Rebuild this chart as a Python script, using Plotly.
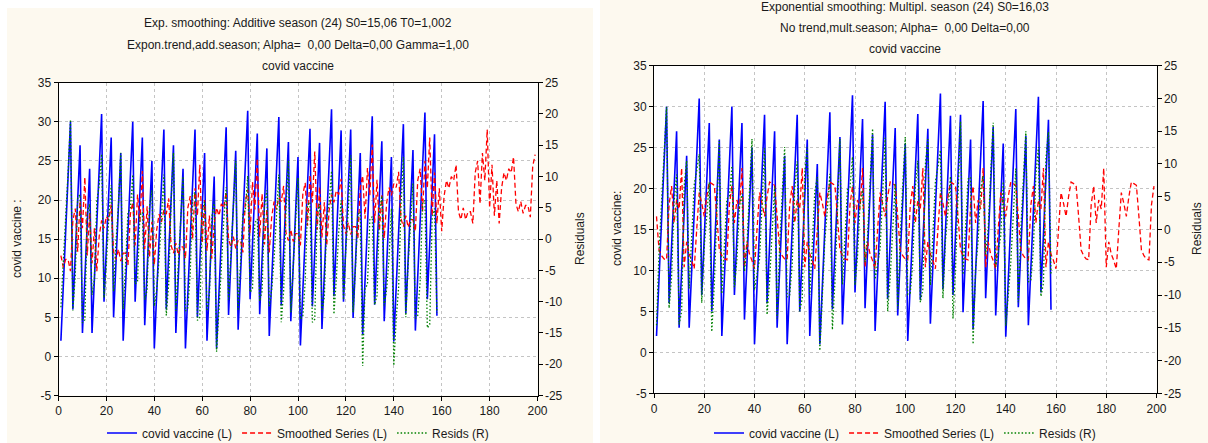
import plotly.graph_objects as go

# ---------------- data ----------------
x_observed = list(range(1, 159))     # observed cases 1..158
x_forecast = list(range(1, 200))     # smoothed series incl. forecast 1..199

covid_vaccine = [
    2, 9, 16, 23, 30, 6, 13, 20, 27, 3, 10, 17, 24, 3, 10, 17, 24, 31, 7, 14, 21, 28, 5, 12,
    19, 26, 2, 9, 16, 23, 30, 7, 14, 21, 28, 4, 11, 18, 25, 1, 8, 15, 22, 29, 6, 13, 20, 27,
    3, 10, 17, 24, 1, 8, 15, 22, 29, 5, 12, 19, 26, 2, 9, 16, 23, 1, 8, 15, 22, 29.3, 5.3, 12.3,
    19.3, 26.3, 3.4, 10.4, 17.4, 24.4, 31.4, 7.3, 14.4, 21.4, 28.5, 5.4, 12.5, 19.5, 26.6, 2.6,
    9.6, 16.6, 23.6, 30.6, 6.5, 13.5, 20.5, 27.4,
    4.5, 11.5, 18.5, 25.5, 1.4, 8.3, 15.3, 22.2, 29.1, 6.4, 13.4, 20.3, 27.3, 3.5, 10.5, 17.5,
    24.5, 31.6, 7.7, 14.8, 21.8, 28.9, 7.0, 14.3,
    21.7, 29.0, 4.9, 11.9, 19.0, 26.0, 2.8, 9.8, 16.8, 23.7, 30.7, 6.6, 13.6, 20.5, 27.5, 4.5,
    11.5, 18.5, 25.5, 1.9, 8.9, 15.8, 22.8, 29.7,
    5.5, 12.5, 19.4, 26.4, 3.3, 10.3, 17.3, 24.2, 31.2, 7.3, 14.3, 21.3, 28.4, 5.2,
]

# Left panel: additive season, exponential trend
smoothed_additive = [
    12.9, 11.4, 12.4, 12.4, 10.9, 17.4, 18.9, 13.4, 19.9, 16.4, 22.9, 12.9, 18.4, 11.9, 16.4, 10.9, 15.4, 17.4, 16.4, 17.9, 17.4, 19.4, 13.4, 12.4,
    13.7, 12.2, 13.2, 13.2, 11.7, 18.2, 19.7, 14.2, 20.7, 17.2, 23.7, 13.7, 19.2, 12.7, 17.2, 11.7, 16.2, 18.2, 17.2, 18.7, 18.2, 20.2, 14.2, 13.2,
    14.5, 13.0, 14.0, 14.0, 12.5, 19.0, 20.5, 15.0, 21.5, 18.0, 24.5, 14.5, 20.0, 13.5, 18.0, 12.5, 17.0, 19.0, 18.0, 19.5, 19.0, 21.0, 15.0, 14.0,
    15.3, 13.8, 14.8, 14.8, 13.3, 19.8, 21.3, 15.8, 22.3, 18.8, 25.3, 15.3, 20.8, 14.3, 18.8, 13.3, 17.8, 19.8, 18.8, 20.3, 19.8, 21.8, 15.8, 14.8,
    16.2, 14.7, 15.7, 15.7, 14.2, 20.7, 22.2, 16.7, 23.2, 19.7, 26.2, 16.2, 21.7, 15.2, 19.7, 14.2, 18.7, 20.7, 19.7, 21.2, 20.7, 22.7, 16.7, 15.7,
    17.1, 15.6, 16.6, 16.6, 15.1, 21.6, 23.1, 17.6, 24.1, 20.6, 27.1, 17.1, 22.6, 16.1, 20.6, 15.1, 19.6, 21.6, 20.6, 22.1, 21.6, 23.6, 17.6, 16.6,
    18.0, 16.5, 17.5, 17.5, 16.0, 22.5, 24.0, 18.5, 25.0, 21.5, 28.0, 18.0, 23.5, 17.0, 21.5, 16.0, 20.5, 22.5, 21.5, 23.0, 22.5, 24.5, 18.5, 17.5,
    19.0, 17.5, 18.5, 18.5, 17.0, 23.5, 25.0, 19.5, 26.0, 22.5, 29.0, 19.0, 24.5, 18.0, 22.5, 17.0, 21.5, 23.5, 22.5, 24.0, 23.5, 25.5, 19.5, 18.5,
    19.8, 18.3, 19.3, 19.3, 17.8, 24.3, 25.8,
]
resids_additive = [
    -10.9, -2.4, 3.6, 10.6, 19.1, -11.4, -5.9, 6.6, 7.1, -13.4, -12.9, 4.1, 5.6, -8.9, -6.4, 6.1, 8.6, 13.6, -9.4, -3.9, 3.6, 8.6, -8.4, -0.4,
    5.3, 13.8, -11.2, -4.2, 4.3, 4.8, 10.3, -7.2, -6.7, 3.8, 4.3, -9.7, -8.2, 5.3, 7.8, -10.7, -8.2, -3.2, 4.8, 10.3, -12.2, -7.2, 5.8, 13.8,
    -11.5, -3.0, 3.0, 10.0, -11.5, -11.0, -5.5, 7.0, 7.5, -13.0, -12.5, 4.5, 6.0, -11.5, -9.0, 3.5, 6.0, -18.0, -10.0, -4.5, 3.0, 8.3, -9.7, -1.7,
    4.0, 12.5, -11.4, -4.4, 4.1, 4.6, 10.1, -8.5, -7.9, 2.6, 3.2, -9.9, -8.3, 5.2, 7.8, -10.7, -8.2, -3.2, 4.8, 10.3, -13.3, -8.3, 4.7, 12.6,
    -11.7, -3.2, 2.8, 9.8, -12.8, -12.4, -6.9, 5.5, 5.9, -13.3, -12.8, 4.1, 5.6, -11.7, -9.2, 3.3, 5.8, 10.9, -12.0, -6.4, 1.1, 6.2, -9.7, -1.4,
    4.6, 13.4, -11.7, -4.7, 3.9, 4.4, -20.3, -7.8, -7.3, 3.1, 3.6, -10.5, -9.0, 4.4, 6.9, -10.6, -8.1, -3.1, 4.9, -20.2, -12.7, -7.8, 5.2, 13.1,
    -12.5, -4.0, 1.9, 8.9, -12.7, -12.2, -6.7, 5.7, 6.2, -14.2, -13.7, 3.3, 4.9, -11.8,
]

# Right panel: multiplicative season, no trend
smoothed_multiplicative = [
    16.6, 12.5, 11.8, 11.4, 11.3, 18.0, 20.3, 15.8, 18.6, 17.5, 22.5, 10.4, 13.5, 12.0, 11.2, 10.2, 15.0, 19.5, 18.2, 16.6, 19.0, 20.8, 20.6, 20.4,
    16.6, 12.5, 11.8, 11.4, 11.3, 18.0, 20.3, 15.8, 18.6, 17.5, 22.5, 10.4, 13.5, 12.0, 11.2, 10.2, 15.0, 19.5, 18.2, 16.6, 19.0, 20.8, 20.6, 20.4,
    16.6, 12.5, 11.8, 11.4, 11.3, 18.0, 20.3, 15.8, 18.6, 17.5, 22.5, 10.4, 13.5, 12.0, 11.2, 10.2, 15.0, 19.5, 18.2, 16.6, 19.0, 20.8, 20.6, 20.4,
    16.6, 12.5, 11.8, 11.4, 11.3, 18.0, 20.3, 15.8, 18.6, 17.5, 22.5, 10.4, 13.5, 12.0, 11.2, 10.2, 15.0, 19.5, 18.2, 16.6, 19.0, 20.8, 20.6, 20.4,
    16.6, 12.5, 11.8, 11.4, 11.3, 18.0, 20.3, 15.8, 18.6, 17.5, 22.5, 10.4, 13.5, 12.0, 11.2, 10.2, 15.0, 19.5, 18.2, 16.6, 19.0, 20.8, 20.6, 20.4,
    16.6, 12.5, 11.8, 11.4, 11.3, 18.0, 20.3, 15.8, 18.6, 17.5, 22.5, 10.4, 13.5, 12.0, 11.2, 10.2, 15.0, 19.5, 18.2, 16.6, 19.0, 20.8, 20.6, 20.4,
    16.6, 12.5, 11.8, 11.4, 11.3, 18.0, 20.3, 15.8, 18.6, 17.5, 22.5, 10.4, 13.5, 12.0, 11.2, 10.2, 15.0, 19.5, 18.2, 16.6, 19.0, 20.8, 20.6, 20.4,
    16.6, 12.5, 11.8, 11.4, 11.3, 18.0, 20.3, 15.8, 18.6, 17.5, 22.5, 10.4, 13.5, 12.0, 11.2, 10.2, 15.0, 19.5, 18.2, 16.6, 19.0, 20.8, 20.6, 20.4,
    16.6, 12.5, 11.8, 11.4, 11.3, 18.0, 20.3,
]
resids_multiplicative = [
    -14.6, -3.5, 4.2, 11.6, 18.7, -12.0, -7.3, 4.2, 8.4, -14.5, -12.5, 6.6, 10.5, -9.0, -1.2, 6.8, 9.0, 11.5, -11.2, -2.6, 2.0, 7.2, -15.6, -8.4,
    2.4, 13.5, -9.8, -2.4, 4.7, 5.0, 9.7, -8.8, -4.6, 3.5, 5.5, -6.4, -2.5, 6.0, 13.8, -9.2, -7.0, -4.5, 3.8, 12.4, -13.0, -7.8, -0.6, 6.6,
    -13.6, -2.5, 5.2, 12.6, -10.3, -10.0, -5.3, 6.2, 10.4, -12.5, -10.5, 8.6, 12.5, -10.0, -2.2, 5.8, 8.0, -18.5, -10.2, -1.6, 3.0, 8.5, -15.3, -8.1,
    2.7, 13.8, -8.4, -1.0, 6.1, 6.4, 11.1, -8.5, -4.2, 3.9, 6.0, -5.0, -1.0, 7.5, 15.4, -7.6, -5.4, -2.9, 5.4, 14.0, -12.5, -7.3, -0.1, 7.0,
    -12.1, -1.0, 6.7, 14.1, -9.9, -9.7, -5.0, 6.4, 10.5, -11.1, -9.1, 9.9, 13.8, -8.5, -0.7, 7.3, 9.5, 12.1, -10.5, -1.8, 2.8, 8.1, -13.6, -6.1,
    5.1, 16.5, -6.9, 0.5, 7.7, 8.0, -17.5, -6.0, -1.8, 6.2, 8.2, -3.8, 0.1, 8.5, 16.3, -5.7, -3.5, -1.0, 7.3, -14.7, -10.1, -5.0, 2.2, 9.3,
    -11.1, 0.0, 7.6, 15.0, -8.0, -7.7, -3.0, 8.4, 12.6, -10.2, -8.2, 10.9, 14.9, -6.8,
]

x_ticks = [0, 20, 40, 60, 80, 100, 120, 140, 160, 180, 200]
left_ticks = [-5, 0, 5, 10, 15, 20, 25, 30, 35]
right_ticks = [-25, -20, -15, -10, -5, 0, 5, 10, 15, 20, 25]

titles_left = ["Exp. smoothing: Additive season (24) S0=15,06 T0=1,002",
               "Expon.trend,add.season; Alpha=  0,00 Delta=0,00 Gamma=1,00",
               "covid vaccine"]
titles_right = ["Exponential smoothing: Multipl. season (24) S0=16,03",
                "No trend,mult.season; Alpha=  0,00 Delta=0,00",
                "covid vaccine"]

# ---------------- layout helpers ----------------
W, H = 1208, 443
FONT = "Liberation Sans, Arial, sans-serif"
CREAM = "#FDF9EF"
TXT = "#1a1a1a"


def pxx(v):
    return v / W


def pyy(v):
    return 1 - v / H


def labels(vals):
    # plain hyphen-minus like the reference
    return [str(v) for v in vals]


fig = go.Figure()

panels = [
    dict(xa="x", ya="y", yb="y2", sm=smoothed_additive, rs=resids_additive, lg="legend"),
    dict(xa="x2", ya="y3", yb="y4", sm=smoothed_multiplicative, rs=resids_multiplicative, lg="legend2"),
]
for p in panels:
    fig.add_trace(go.Scatter(x=x_observed, y=covid_vaccine, mode="lines", name="covid vaccine (L)",
                             line=dict(color="#0000FF", width=1.6), xaxis=p["xa"], yaxis=p["ya"], legend=p["lg"]))
    fig.add_trace(go.Scatter(x=x_forecast, y=p["sm"], mode="lines", name="Smoothed Series (L)",
                             line=dict(color="#FF0000", width=1.3, dash="5px,3px"), xaxis=p["xa"], yaxis=p["ya"], legend=p["lg"]))
    fig.add_trace(go.Scatter(x=x_observed, y=p["rs"], mode="lines", name="Resids (R)",
                             line=dict(color="#008000", width=1.3, dash="1.5px,2px"), xaxis=p["xa"], yaxis=p["yb"], legend=p["lg"]))

tickfont = dict(family=FONT, size=12, color=TXT)
common_x = dict(range=[0, 200], tickvals=x_ticks, ticktext=labels(x_ticks), showline=True, linecolor="black",
                linewidth=1, mirror=True, ticks="outside", ticklen=4, tickcolor="black", showgrid=True,
                gridcolor="#C4C4C4", griddash="dot", gridwidth=1, zeroline=False, tickfont=tickfont,
                automargin=False)
common_yl = dict(range=[-5, 35], tickvals=left_ticks, ticktext=labels(left_ticks), showline=True, linecolor="black",
                 linewidth=1, ticks="outside", ticklen=4, tickcolor="black", showgrid=True, gridcolor="#C4C4C4",
                 griddash="dot", gridwidth=1, zeroline=False, tickfont=tickfont, automargin=False)
common_yr = dict(range=[-25, 25], tickvals=right_ticks, ticktext=labels(right_ticks), showline=True,
                 linecolor="black", linewidth=1, ticks="outside", ticklen=4, tickcolor="black", showgrid=False,
                 zeroline=False, side="right", tickfont=tickfont, automargin=False)

L = dict(x0=58.5, x1=537.5, y0=82.7, y1=395.5)
R = dict(x0=654.0, x1=1156.5, y0=65.7, y1=393.3)

fig.update_layout(
    width=W, height=H, margin=dict(l=0, r=0, t=0, b=0, pad=0, autoexpand=False),
    paper_bgcolor="white", plot_bgcolor="rgba(0,0,0,0)",
    xaxis=dict(domain=[pxx(L["x0"]), pxx(L["x1"])], anchor="y", **common_x),
    yaxis=dict(domain=[pyy(L["y1"]), pyy(L["y0"])], anchor="x", **common_yl),
    yaxis2=dict(overlaying="y", anchor="x", **common_yr),
    xaxis2=dict(domain=[pxx(R["x0"]), pxx(R["x1"])], anchor="y3", **common_x),
    yaxis3=dict(domain=[pyy(R["y1"]), pyy(R["y0"])], anchor="x2", **common_yl),
    yaxis4=dict(overlaying="y3", anchor="x2", **common_yr),
    legend=dict(orientation="h", x=pxx(298), xanchor="center", y=pyy(433), yanchor="middle",
                font=dict(family=FONT, size=12, color=TXT), bgcolor="rgba(0,0,0,0)", itemwidth=30,
                tracegroupgap=0),
    legend2=dict(orientation="h", x=pxx(905), xanchor="center", y=pyy(433), yanchor="middle",
                 font=dict(family=FONT, size=12, color=TXT), bgcolor="rgba(0,0,0,0)", itemwidth=30,
                 tracegroupgap=0),
    showlegend=True,
)

# panel backgrounds (cream) and white plot areas
shapes = [
    dict(type="rect", xref="paper", yref="paper", x0=pxx(7), x1=pxx(593), y0=0, y1=pyy(8),
         fillcolor=CREAM, line=dict(width=0), layer="below"),
    dict(type="rect", xref="paper", yref="paper", x0=pxx(600), x1=1, y0=0, y1=1,
         fillcolor=CREAM, line=dict(width=0), layer="below"),
]
for P in (L, R):
    shapes.append(dict(type="rect", xref="paper", yref="paper", x0=pxx(P["x0"]), x1=pxx(P["x1"]),
                       y0=pyy(P["y1"]), y1=pyy(P["y0"]), fillcolor="white", line=dict(width=0), layer="below"))
fig.update_layout(shapes=shapes)

annotations = []
for text, y in zip(titles_left, [23, 45, 66]):
    annotations.append(dict(text=text, x=pxx(298), y=pyy(y), xref="paper", yref="paper",
                            showarrow=False, xanchor="center", yanchor="middle",
                            font=dict(family=FONT, size=12, color=TXT)))
for text, y in zip(titles_right, [7, 28, 49]):
    annotations.append(dict(text=text, x=pxx(905), y=pyy(y), xref="paper", yref="paper",
                            showarrow=False, xanchor="center", yanchor="middle",
                            font=dict(family=FONT, size=12, color=TXT)))
axis_titles = [("covid vaccine :", 17, 239), ("Residuals", 580, 239),
               ("covid vaccine:", 617, 229), ("Residuals", 1197, 229)]
for text, x, y in axis_titles:
    annotations.append(dict(text=text, x=pxx(x), y=pyy(y), xref="paper", yref="paper", textangle=-90,
                            showarrow=False, xanchor="center", yanchor="middle",
                            font=dict(family=FONT, size=12, color=TXT)))
fig.update_layout(annotations=annotations)

fig.write_html(
    "out.html",
    config={"displayModeBar": False},
    post_script="document.body.style.margin='0';document.body.style.padding='0';"
                "document.documentElement.style.overflow='hidden';",
)
